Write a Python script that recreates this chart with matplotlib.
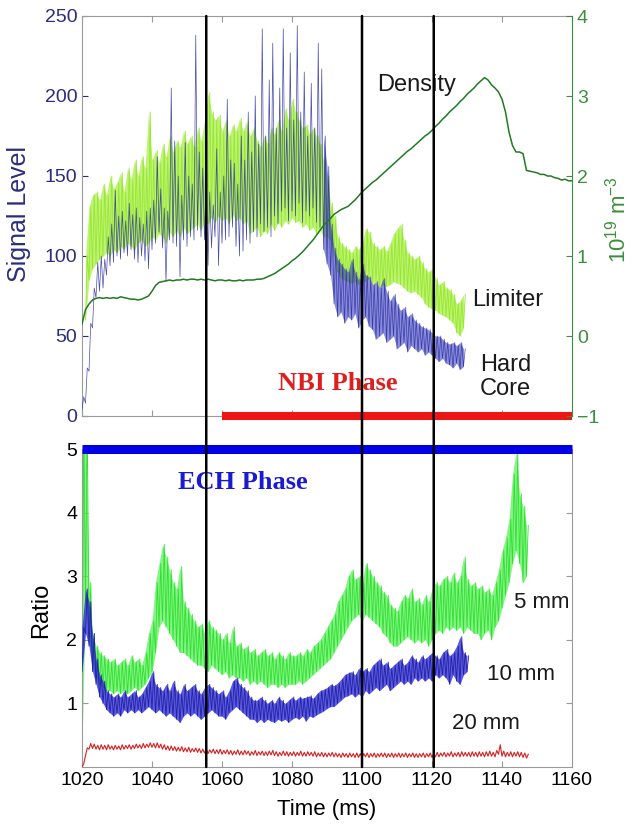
import numpy as np
import matplotlib
matplotlib.use("Agg")
import matplotlib.pyplot as plt
from matplotlib.patches import ConnectionPatch

plt.rcParams['font.family'] = 'Liberation Sans'
plt.rcParams['mathtext.fontset'] = 'custom'
plt.rcParams['mathtext.rm'] = 'Liberation Sans'

# ---- data (1 ms steps, min / max of the noisy trace) ----
# Hard core signal (top panel, left axis), 1020..1129 ms
hc_lo = [4, 8, 28, 55, 74, 78, 80, 88, 94, 96,
         100, 98, 102, 100, 104, 98, 96, 100, 97, 92,
         104, 108, 115, 105, 84, 110, 108, 106, 87, 110,
         106, 112, 110, 116, 112, 110, 94, 105, 112, 94,
         108, 110, 112, 118, 106, 100, 103, 110, 108, 115,
         112, 120, 115, 118, 112, 125, 120, 128, 130, 122,
         128, 125, 133, 121, 128, 125, 130, 121, 118, 104,
         95, 88, 70, 62, 65, 58, 62, 60, 64, 55,
         60, 62, 56, 54, 48, 50, 52, 46, 48, 50,
         42, 44, 46, 40, 44, 42, 40, 42, 38, 40,
         38, 36, 34, 36, 33, 32, 30, 33, 29, 31]
hc_hi = [12, 30, 58, 80, 96, 100, 98, 112, 120, 141,
         125, 128, 122, 133, 126, 130, 124, 120, 128, 130,
         135, 162, 142, 130, 128, 205, 172, 150, 138, 171,
         150, 145, 238, 165, 155, 150, 140, 132, 167, 140,
         150, 198, 160, 158, 145, 175, 160, 190, 165, 200,
         170, 242, 175, 210, 233, 180, 205, 242, 180, 227,
         185, 244, 190, 215, 175, 208, 180, 233, 217, 175,
         156, 120, 105, 98, 95, 92, 90, 98, 90, 85,
         95, 88, 87, 82, 84, 80, 86, 78, 72, 76,
         70, 66, 68, 62, 64, 60, 58, 56, 55, 54,
         52, 50, 50, 48, 46, 45, 46, 44, 46, 42]

# Limiter signal (top panel, left axis), 1021..1129 ms
lm_lo = [60, 85, 92, 95, 98, 100, 102, 100, 104,
         102, 106, 104, 108, 106, 104, 108, 110, 106, 108,
         112, 110, 114, 112, 108, 115, 112, 116, 112, 118,
         114, 116, 118, 120, 116, 122, 120, 124, 121, 125,
         122, 124, 120, 126, 122, 124, 120, 122, 114, 116,
         118, 112, 116, 114, 120, 116, 121, 118, 122, 120,
         124, 121, 122, 118, 120, 116, 118, 114, 116, 112,
         112, 110, 100, 90, 86, 85, 84, 83, 84, 82,
         85, 84, 86, 82, 84, 80, 82, 81, 82, 84,
         83, 82, 80, 78, 77, 78, 76, 74, 70, 68,
         67, 66, 64, 63, 62, 60, 58, 52, 50, 55]
lm_hi = [100, 131, 138, 140, 135, 145, 138, 150, 142,
         146, 152, 140, 155, 148, 160, 150, 162, 155, 190,
         160, 166, 158, 170, 162, 175, 165, 172, 168, 178,
         170, 175, 168, 180, 172, 185, 202, 190, 185, 188,
         178, 185, 175, 182, 178, 186, 178, 184, 175, 180,
         172, 168, 175, 170, 180, 176, 185, 178, 192, 185,
         198, 190, 185, 180, 182, 176, 180, 175, 170, 160,
         150, 133, 125, 112, 108, 106, 104, 102, 106, 104,
         108, 117, 115, 108, 106, 104, 106, 103, 108, 114,
         117, 120, 110, 102, 100, 98, 100, 96, 92, 90,
         92, 86, 82, 84, 80, 79, 76, 70, 72, 76]

# Density (right axis, 1e19 m^-3), 1020..1160 ms
dens = [0.15, 0.33, 0.40, 0.45, 0.47, 0.48, 0.47, 0.48, 0.47, 0.48,
        0.47, 0.49, 0.48, 0.47, 0.46, 0.46, 0.45, 0.46, 0.48, 0.50,
        0.56, 0.63, 0.67, 0.68, 0.69, 0.70, 0.69, 0.70, 0.70, 0.71,
        0.70, 0.71, 0.71, 0.70, 0.71, 0.70, 0.71, 0.70, 0.69, 0.70,
        0.70, 0.69, 0.70, 0.69, 0.69, 0.70, 0.69, 0.70, 0.70, 0.70,
        0.71, 0.71, 0.72, 0.74, 0.76, 0.78, 0.81, 0.84, 0.87, 0.90,
        0.94, 0.97, 1.01, 1.05, 1.10, 1.15, 1.20, 1.26, 1.32, 1.38,
        1.43, 1.47, 1.52, 1.55, 1.58, 1.60, 1.62, 1.66, 1.70, 1.75,
        1.80, 1.84, 1.88, 1.92, 1.95, 1.99, 2.03, 2.07, 2.11, 2.15,
        2.19, 2.23, 2.27, 2.31, 2.34, 2.38, 2.42, 2.46, 2.50, 2.53,
        2.57, 2.62, 2.66, 2.71, 2.75, 2.80, 2.84, 2.88, 2.93, 2.97,
        3.02, 3.06, 3.10, 3.15, 3.19, 3.23, 3.20, 3.14, 3.10, 3.05,
        2.96, 2.80, 2.55, 2.38, 2.30, 2.30, 2.28, 2.07, 2.06, 2.05,
        2.04, 2.02, 2.02, 2.00, 2.00, 1.98, 1.97, 1.95, 1.96, 1.94,
        1.94]

# Ratio 5 mm, 1020..1147 ms
r5_lo = [0.3, 2.6, 2.0, 1.6, 1.4, 1.3, 1.25, 1.2, 1.2, 1.15,
         1.2, 1.15, 1.2, 1.15, 1.2, 1.25, 1.2, 1.25, 1.3, 1.4,
         1.5, 1.8, 2.2, 2.3, 2.2, 2.1, 2.0, 1.9, 1.8, 1.8,
         1.75, 1.7, 1.65, 1.6, 1.6, 1.55, 1.5, 1.6, 1.55, 1.5,
         1.45, 1.5, 1.4, 1.45, 1.4, 1.4, 1.35, 1.4, 1.3, 1.35,
         1.3, 1.35, 1.3, 1.25, 1.3, 1.3, 1.25, 1.3, 1.25, 1.3,
         1.3, 1.3, 1.35, 1.3, 1.35, 1.4, 1.45, 1.5, 1.55, 1.6,
         1.65, 1.7, 1.8, 1.9, 2.0, 2.1, 2.2, 2.3, 2.35, 2.4,
         2.3, 2.4, 2.35, 2.3, 2.25, 2.2, 2.1, 2.05, 1.95, 1.9,
         1.9, 1.95, 2.0, 2.05, 2.0, 1.95, 2.0, 1.95, 2.0, 1.9,
         2.0, 2.1, 2.15, 2.1, 2.2, 2.15, 2.2, 2.15, 2.2, 2.1,
         2.2, 2.15, 2.1, 2.1, 2.0, 2.1, 2.15, 2.0, 2.2, 2.3,
         2.5, 2.7, 2.9, 3.2, 3.4, 3.2, 2.9, 3.0]
r5_hi = [5.5, 5.5, 2.9, 2.1, 1.9, 1.8, 1.75, 1.7, 1.65, 1.7,
         1.6, 1.65, 1.7, 1.6, 1.75, 1.65, 1.7, 1.6, 1.8, 2.1,
         2.3, 2.9, 3.2, 3.5, 3.3, 3.1, 2.9, 2.8, 3.15, 2.6,
         2.5, 2.4, 2.3, 2.2, 2.25, 2.1, 2.3, 2.2, 2.15, 2.1,
         2.0, 2.1, 1.95, 2.2, 1.9, 1.95, 1.85, 1.9, 1.8, 1.85,
         1.75, 1.8, 1.85, 1.75, 1.8, 1.7, 1.8, 1.75, 1.7, 1.8,
         1.75, 1.75, 1.8, 1.75, 1.85, 1.8, 1.9, 1.95, 2.0, 2.1,
         2.2, 2.3, 2.4, 2.6, 2.7, 2.8, 3.0, 3.1, 2.95, 3.0,
         2.9, 3.2, 3.1, 3.0, 2.9, 2.85, 2.75, 2.7, 2.55, 2.5,
         2.45, 2.6, 2.7, 2.65, 2.8, 2.6, 2.65, 2.55, 2.7, 2.6,
         2.8, 2.9, 2.85, 2.95, 3.0, 2.9, 3.05, 2.9, 3.0, 3.3,
         2.95, 2.85, 2.9, 2.8, 2.85, 2.75, 2.8, 2.7, 2.9, 3.1,
         3.4, 3.6, 3.9, 4.6, 4.95, 4.3, 4.1, 3.8]

# Ratio 10 mm, 1020..1130 ms
r10_lo = [1.5, 2.1, 1.9, 1.5, 1.3, 1.1, 1.0, 0.9, 0.85, 0.8,
          0.85, 0.8, 0.9, 0.85, 0.9, 0.85, 0.9, 0.85, 0.9, 0.95,
          0.9, 0.85, 0.9, 0.85, 0.8, 0.85, 0.8, 0.75, 0.7, 0.8,
          0.85, 0.8, 0.85, 0.8, 0.75, 0.8, 0.85, 0.9, 0.85, 0.8,
          0.8, 0.75, 0.85, 0.9, 0.95, 0.9, 0.85, 0.8, 0.75, 0.75,
          0.7, 0.75, 0.7, 0.75, 0.72, 0.7, 0.75, 0.72, 0.75, 0.7,
          0.75, 0.78, 0.75, 0.8, 0.72, 0.8, 0.78, 0.82, 0.85, 0.88,
          0.92, 0.95, 0.95, 1.0, 1.05, 1.1, 1.12, 1.15, 1.1, 1.15,
          1.1, 1.2, 1.15, 1.2, 1.25, 1.2, 1.25, 1.3, 1.2, 1.25,
          1.3, 1.35, 1.3, 1.35, 1.3, 1.4, 1.35, 1.4, 1.35, 1.4,
          1.35, 1.45, 1.4, 1.45, 1.4, 1.3, 1.45, 1.35, 1.3, 1.45,
          1.5]
r10_hi = [2.2, 2.8, 2.6, 2.1, 1.7, 1.45, 1.35, 1.2, 1.15, 1.1,
          1.15, 1.1, 1.2, 1.1, 1.15, 1.2, 1.1, 1.15, 1.25, 1.35,
          1.5, 1.3, 1.25, 1.2, 1.3, 1.2, 1.35, 1.2, 1.15, 1.3,
          1.2, 1.25, 1.3, 1.2, 1.15, 1.25, 1.3, 1.25, 1.2, 1.15,
          1.2, 1.1, 1.2, 1.35, 1.4, 1.3, 1.25, 1.2, 1.1, 1.05,
          1.05, 1.1, 1.05, 1.0, 1.05, 1.0, 1.1, 1.05, 1.0, 1.05,
          1.1, 1.05, 1.1, 1.08, 1.1, 1.12, 1.08, 1.15, 1.2, 1.22,
          1.25, 1.3, 1.28, 1.32, 1.38, 1.45, 1.48, 1.5, 1.45, 1.55,
          1.5, 1.55, 1.5, 1.6, 1.65, 1.7, 1.6, 1.65, 1.55, 1.6,
          1.65, 1.7, 1.6, 1.65, 1.75, 1.7, 1.65, 1.75, 1.7, 1.75,
          1.8, 1.75, 1.7, 1.8, 1.85, 1.75, 1.8, 1.9, 2.05, 1.8,
          1.75]

# Ratio 20 mm, 1020..1147 ms
r20_lo = [0.0, 0.18, 0.28, 0.29, 0.28, 0.27, 0.28, 0.27, 0.28, 0.27,
          0.28, 0.27, 0.28, 0.29, 0.28, 0.29, 0.30, 0.29, 0.30, 0.31,
          0.31, 0.30, 0.30, 0.28, 0.27, 0.26, 0.26, 0.25, 0.25, 0.24,
          0.24, 0.23, 0.24, 0.23, 0.22, 0.22, 0.21, 0.22, 0.21, 0.21,
          0.20, 0.21, 0.20, 0.19, 0.20, 0.19, 0.19, 0.20, 0.18, 0.19,
          0.18, 0.19, 0.18, 0.18, 0.19, 0.18, 0.17, 0.18, 0.18, 0.17,
          0.18, 0.17, 0.18, 0.17, 0.17, 0.18, 0.17, 0.16, 0.17, 0.16,
          0.16, 0.17, 0.16, 0.16, 0.15, 0.16, 0.15, 0.16, 0.15, 0.15,
          0.15, 0.16, 0.15, 0.16, 0.15, 0.16, 0.16, 0.15, 0.16, 0.15,
          0.16, 0.15, 0.16, 0.15, 0.16, 0.15, 0.15, 0.16, 0.15, 0.16,
          0.15, 0.16, 0.16, 0.17, 0.16, 0.17, 0.16, 0.17, 0.16, 0.17,
          0.17, 0.16, 0.17, 0.16, 0.17, 0.16, 0.17, 0.17, 0.16, 0.20,
          0.17, 0.16, 0.17, 0.16, 0.17, 0.16, 0.15, 0.14]
r20_hi = [0.05, 0.30, 0.37, 0.36, 0.34, 0.35, 0.34, 0.35, 0.33, 0.34,
          0.33, 0.35, 0.34, 0.35, 0.34, 0.36, 0.35, 0.37, 0.36, 0.38,
          0.37, 0.38, 0.36, 0.35, 0.33, 0.33, 0.32, 0.31, 0.32, 0.30,
          0.31, 0.29, 0.30, 0.29, 0.28, 0.29, 0.27, 0.28, 0.27, 0.28,
          0.26, 0.27, 0.26, 0.25, 0.27, 0.25, 0.26, 0.25, 0.24, 0.26,
          0.24, 0.25, 0.24, 0.25, 0.26, 0.24, 0.23, 0.25, 0.24, 0.23,
          0.24, 0.23, 0.25, 0.23, 0.24, 0.23, 0.24, 0.22, 0.23, 0.22,
          0.22, 0.23, 0.22, 0.21, 0.22, 0.21, 0.22, 0.21, 0.22, 0.21,
          0.21, 0.22, 0.21, 0.22, 0.21, 0.22, 0.22, 0.21, 0.22, 0.21,
          0.22, 0.21, 0.22, 0.21, 0.22, 0.21, 0.21, 0.22, 0.21, 0.22,
          0.22, 0.23, 0.22, 0.23, 0.22, 0.24, 0.22, 0.23, 0.24, 0.23,
          0.23, 0.24, 0.23, 0.24, 0.23, 0.24, 0.25, 0.23, 0.26, 0.35,
          0.25, 0.23, 0.24, 0.23, 0.24, 0.23, 0.22, 0.20]

event_times = [1055.5, 1100, 1120.5]
nbi_span = [1060, 1160]
ech_span = [1020, 1160]
hc_dense_from = 1089   # after the drop the hard-core trace is a dense band

t_hc = np.arange(1020, 1020 + len(hc_lo))
t_lm = np.arange(1021, 1021 + len(lm_lo))
t_dens = np.arange(1020, 1020 + len(dens))
t_r5 = np.arange(1020, 1020 + len(r5_lo))
t_r10 = np.arange(1020, 1020 + len(r10_lo))
t_r20 = np.arange(1020, 1020 + len(r20_lo))


def zig(t, lo, hi):
    # draw the min/max of each ms as an up-down trace
    x = np.empty(2 * len(t))
    y = np.empty(2 * len(t))
    x[0::2] = t
    x[1::2] = t + 0.5
    y[0::2] = lo
    y[1::2] = hi
    return x, y


def band(ax, t, lo, hi, fill, edge, lw=0.6, z=2, a=0.75):
    # noisy trace: min/max envelope plus the up-down trace on top
    ax.fill_between(t, lo, hi, color=fill, lw=0, alpha=a, zorder=z)
    ax.plot(*zig(t, lo, hi), color=edge, lw=lw, zorder=z + 0.1)


NAVY = '#2b2d7c'
DGREEN = '#3a8f3a'
GREY = '#9a9a9a'

W, H = 632, 824
fig = plt.figure(figsize=(W / 100, H / 100), dpi=100)


def box(l, t, r, b):
    return [l / W, 1 - b / H, (r - l) / W, (b - t) / H]


ax1 = fig.add_axes(box(82, 16, 572, 416))
ax2 = fig.add_axes(box(82, 449, 572, 767))
axr = ax1.twinx()

# ---- top panel ----
band(ax1, t_lm, lm_lo, lm_hi, '#b4f25a', '#96e832', lw=0.6, z=2, a=0.85)
k = hc_dense_from - 1020
ax1.fill_between(t_hc[k:], hc_lo[k:], hc_hi[k:], color='#2a2ec0', lw=0,
                 alpha=0.55, zorder=2.9)
ax1.plot(*zig(t_hc, hc_lo, hc_hi), color='#2a2e9c', lw=0.5, alpha=0.85, zorder=3)
axr.plot(t_dens, dens, color='#217a21', lw=1.1)
ax1.plot(nbi_span, [0, 0], color='#ee1515', lw=5.8, solid_capstyle='butt',
         clip_on=False, zorder=5)

ax1.set_xlim(1020, 1160)
ax1.set_ylim(0, 250)
axr.set_ylim(-1, 4)
ax1.set_xticks(np.arange(1020, 1161, 20))
ax1.set_yticks(np.arange(0, 251, 50))
axr.set_yticks(np.arange(-1, 5, 1))
ax1.tick_params(direction='in', top=True, labelbottom=False, length=4,
                color=GREY, labelsize=14)
ax1.tick_params(axis='y', colors=NAVY, labelsize=14)
axr.tick_params(axis='y', direction='in', length=4, colors=DGREEN, labelsize=14)
for s in ['left', 'top', 'bottom']:
    ax1.spines[s].set_color(GREY)
    axr.spines[s].set_visible(False)
ax1.spines['right'].set_visible(False)
axr.spines['right'].set_color(DGREEN)

ax1.set_ylabel('Signal Level', color=NAVY, fontsize=18, va='center')
ax1.yaxis.set_label_coords(-0.128, 0.505)
axr.set_ylabel(r'10$^{19}$ m$^{-3}$', color=DGREEN, fontsize=16, va='center')
axr.yaxis.set_label_coords(1.092, 0.49)

ax1.text(1115.7, 207, 'Density', fontsize=17, color='#1a1a1a', ha='center', va='center')
ax1.text(1141.7, 72.5, 'Limiter', fontsize=17, color='#1a1a1a', ha='center', va='center')
ax1.text(1141.1, 24.5, 'Hard\nCore', fontsize=17, color='#1a1a1a', ha='center',
         va='center', multialignment='left', linespacing=1.15)
ax1.text(1093, 20.5, 'NBI Phase', fontsize=19, color='#dd1f1f', ha='center',
         va='center', family='Liberation Serif', weight='bold')

# ---- bottom panel ----
band(ax2, t_r5, r5_lo, r5_hi, '#5cf05c', '#2ee02e', z=2)
band(ax2, t_r10, r10_lo, r10_hi, '#2424e0', '#23239e', z=3)
ax2.plot(*zig(t_r20, r20_lo, r20_hi), color='#d42020', lw=0.8, zorder=4)
ax2.plot(ech_span, [5, 5], color='#0000e6', lw=6.5, solid_capstyle='butt',
         clip_on=False, zorder=5)

ax2.set_xlim(1020, 1160)
ax2.set_ylim(0, 5)
ax2.set_xticks(np.arange(1020, 1161, 20))
ax2.set_yticks([1, 2, 3, 4, 5])
ax2.tick_params(direction='in', right=True, length=4, color=GREY, labelsize=14)
for s in ax2.spines.values():
    s.set_color(GREY)
ax2.spines['top'].set_visible(False)

ax2.set_ylabel('Ratio', fontsize=17, va='center')
ax2.yaxis.set_label_coords(-0.083, 0.494)
ax2.set_xlabel('Time (ms)', fontsize=16, va='center')
ax2.xaxis.set_label_coords(0.5, -0.135)

ax2.text(1066, 4.48, 'ECH Phase', fontsize=19, color='#1a1ad0', ha='center',
         va='center', family='Liberation Serif', weight='bold')
ax2.text(1151.4, 2.58, '5 mm', fontsize=16, color='#1a1a1a', ha='center', va='center')
ax2.text(1145.4, 1.45, '10 mm', fontsize=16, color='#1a1a1a', ha='center', va='center')
ax2.text(1135.4, 0.69, '20 mm', fontsize=16, color='#1a1a1a', ha='center', va='center')

# event lines run through both panels
for x in event_times:
    con = ConnectionPatch(xyA=(x, 250), coordsA='data', axesA=ax1,
                          xyB=(x, 0), coordsB='data', axesB=ax2,
                          color='black', lw=1.8, zorder=10)
    fig.add_artist(con)

fig.savefig('out.png', dpi=100)
